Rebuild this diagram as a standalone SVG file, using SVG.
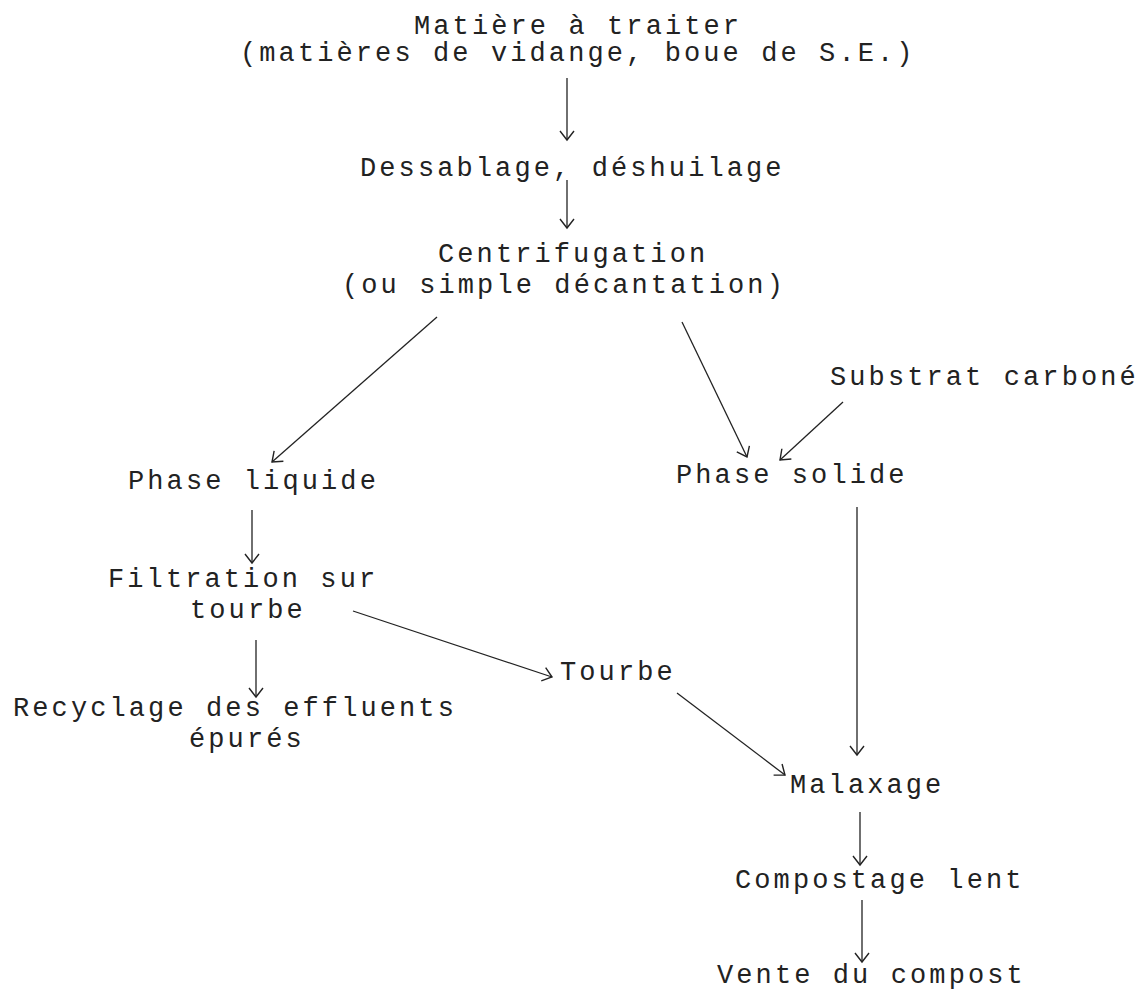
<svg xmlns="http://www.w3.org/2000/svg" width="1137" height="991" viewBox="0 0 1137 991">
<style>
.t{font-family:"Liberation Mono","DejaVu Sans Mono",monospace;font-size:27px;letter-spacing:3.1px;fill:#222}
.c{stroke:#222;stroke-width:1.3;fill:none;marker-end:url(#ah)}
</style>
<defs>
<marker id="ah" markerUnits="userSpaceOnUse" markerWidth="20" markerHeight="20" refX="0" refY="0" viewBox="-12 -10 14 20" orient="auto">
<path d="M -9 -7 L 0 0 L -9 7" fill="none" stroke="#222" stroke-width="1.4"/>
</marker>
</defs>
<rect width="1137" height="991" fill="#fff"/>
<g id="connectors">
<line class="c" x1="567" y1="78" x2="567" y2="140"/>
<line class="c" x1="567" y1="180" x2="567" y2="228"/>
<line class="c" x1="437" y1="317" x2="272" y2="462"/>
<line class="c" x1="682" y1="322" x2="747" y2="457"/>
<line class="c" x1="843" y1="402" x2="780" y2="460"/>
<line class="c" x1="252" y1="510" x2="252" y2="563"/>
<line class="c" x1="256" y1="640" x2="256" y2="697"/>
<line class="c" x1="353" y1="611" x2="552" y2="677"/>
<line class="c" x1="677" y1="693" x2="785" y2="775"/>
<line class="c" x1="857" y1="507" x2="857" y2="755"/>
<line class="c" x1="860" y1="812" x2="860" y2="865"/>
<line class="c" x1="862" y1="900" x2="862" y2="962"/>
</g>
<g id="n-matiere"><text class="t" x="414" y="34">Matière à traiter</text><text class="t" x="240" y="61">(matières de vidange, boue de S.E.)</text></g>
<g id="n-dessablage"><text class="t" x="360" y="176">Dessablage, déshuilage</text></g>
<g id="n-centrifugation"><text class="t" x="438" y="262">Centrifugation</text><text class="t" x="342" y="293">(ou simple décantation)</text></g>
<g id="n-liquide"><text class="t" x="128" y="489">Phase liquide</text></g>
<g id="n-solide"><text class="t" x="676" y="483">Phase solide</text></g>
<g id="n-substrat"><text class="t" x="830" y="385">Substrat carboné</text></g>
<g id="n-filtration"><text class="t" x="108" y="587">Filtration sur</text><text class="t" x="190" y="618">tourbe</text></g>
<g id="n-tourbe"><text class="t" x="560" y="680">Tourbe</text></g>
<g id="n-recyclage"><text class="t" x="13" y="716">Recyclage des effluents</text><text class="t" x="189" y="747">épurés</text></g>
<g id="n-malaxage"><text class="t" x="790" y="793">Malaxage</text></g>
<g id="n-compostage"><text class="t" x="735" y="888">Compostage lent</text></g>
<g id="n-vente"><text class="t" x="717" y="983">Vente du compost</text></g>
</svg>
